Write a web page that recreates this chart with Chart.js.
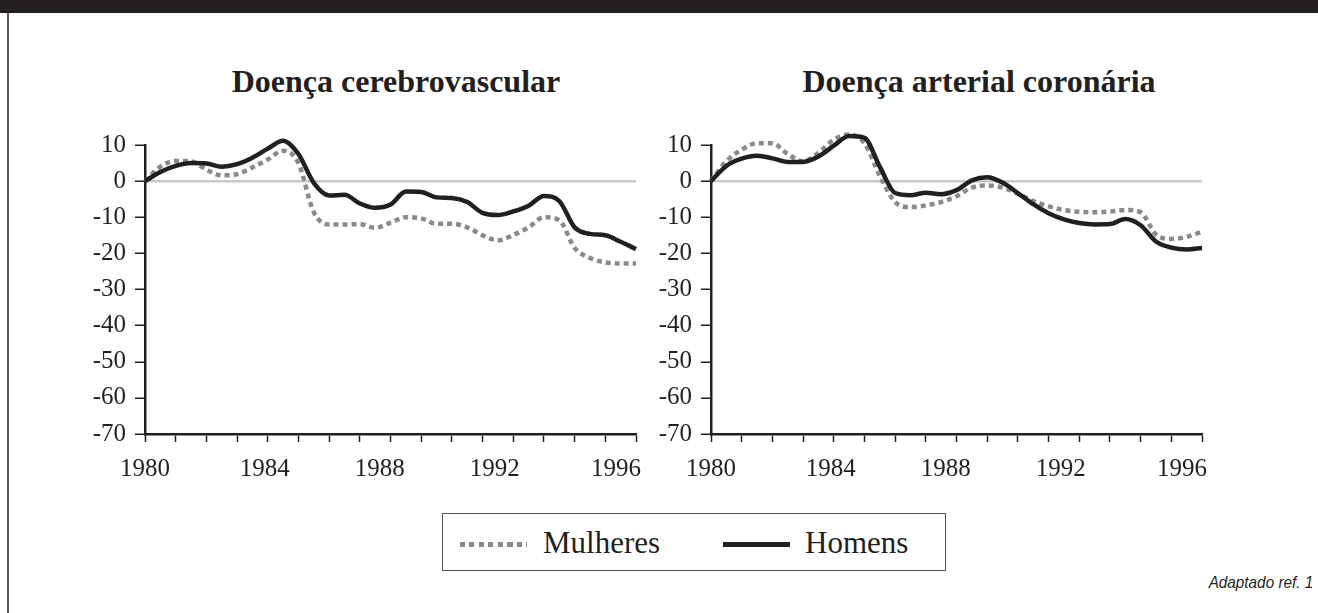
<!DOCTYPE html>
<html lang="pt">
<head>
    <meta charset="UTF-8">
    <title>Doença cerebrovascular e arterial coronária</title>
    <style>
        body {
            margin: 0;
            width: 1318px;
            height: 613px;
            background: #ffffff;
            position: relative;
            overflow: hidden;
            font-family: 'Liberation Serif', 'Times New Roman', serif;
            color: #231f20;
        }

        .topbar {
            position: absolute;
            left: 0; top: 0;
            width: 1318px; height: 13px;
            background: #231f20;
        }

        .leftline {
            position: absolute;
            left: 7px; top: 13px;
            width: 2px; height: 600px;
            background: #5a5a5a;
        }

        .titulo {
            position: absolute;
            top: 63px;
            width: 500px;
            text-align: center;
            font-weight: bold;
            font-size: 32px;
        }

        .grafico {
            position: absolute;
            top: 120px;
        }

        .legenda {
            position: absolute;
            left: 442px; top: 513px;
            width: 502px; height: 56px;
            border: 1.5px solid #555;
            font-size: 31px;
        }

        .legenda .item {
            position: absolute;
            top: 11px;
            line-height: 36px;
        }

        .amostra {
            position: absolute;
            top: 542px;
            height: 5px;
            width: 67px;
        }

        .pontilhado {
            background: repeating-linear-gradient(to right, #8a8a8a 0 5px, transparent 5px 9.5px);
        }

        .continuo {
            background: #231f20;
        }

        .fonte {
            position: absolute;
            right: 5px; top: 573px;
            font-family: 'Liberation Sans Narrow', 'Liberation Sans', Arial, sans-serif;
            font-style: italic;
            font-size: 17px;
            color: #231f20;
            transform: scaleX(0.9);
            transform-origin: right center;
        }
    </style>
    <script src="https://cdn.jsdelivr.net/npm/chart.js"></script>
</head>

<body>
    <div class="topbar"></div>
    <div class="leftline"></div>

    <div class="titulo" style="left: 146px;">Doença cerebrovascular</div>
    <div class="titulo" style="left: 729px;">Doença arterial coronária</div>

    <canvas id="graficoCerebro" class="grafico" width="600" height="370" style="left: 60px;"></canvas>
    <canvas id="graficoCoronaria" class="grafico" width="600" height="370" style="left: 626px;"></canvas>

    <div class="legenda">
        <div class="item" style="left: 100px;">Mulheres</div>
        <div class="item" style="left: 362px;">Homens</div>
    </div>
    <div class="amostra pontilhado" style="left: 460px;"></div>
    <div class="amostra continuo" style="left: 723px;"></div>

    <div class="fonte">Adaptado ref. 1</div>

    <script>
        // anos (meio em meio ano)
        const anos = [1980, 1980.5, 1981, 1981.5, 1982, 1982.5, 1983, 1983.5, 1984, 1984.5,
            1985, 1985.5, 1986, 1986.5, 1987, 1987.5, 1988, 1988.5, 1989, 1989.5,
            1990, 1990.5, 1991, 1991.5, 1992, 1992.5, 1993, 1993.5, 1994, 1994.5,
            1995, 1995.5, 1996];

        // Doença cerebrovascular (% variação)
        const cerebroMulheres = [0, 4, 5.6, 5.5, 3.2, 1.6, 1.9, 3.8, 6, 8.4,
            5, -8.6, -12, -12, -11.9, -12.9, -11.5, -10, -10.3, -11.8,
            -11.8, -12.8, -15, -16.4, -14.9, -12.8, -10, -10.8, -18.5, -21.3,
            -22.5, -22.8, -22.8];
        const cerebroHomens = [0, 2.5, 4.2, 5, 4.9, 4, 4.7, 6.5, 9, 11.2,
            7.5, -0.5, -4, -3.8, -6.2, -7.4, -6.5, -2.9, -3, -4.5,
            -4.7, -5.8, -8.8, -9.4, -8.4, -6.8, -4.1, -5.5, -12.8, -14.6,
            -15, -16.8, -18.8];

        // Doença arterial coronária (% variação)
        const coronariaMulheres = [0, 5.5, 8.7, 10.5, 10.5, 7.5, 5.5, 7.8, 11.5, 12.9,
            10.5, 1.5, -5.8, -7.2, -6.7, -5.8, -4.2, -1.8, -1.2, -1.8,
            -3.5, -5.5, -7, -8, -8.5, -8.6, -8.4, -8, -8.6, -14.8,
            -16, -15.4, -14];
        const coronariaHomens = [0, 4.2, 6.2, 7, 6.3, 5.3, 5.3, 6.8, 9.8, 12.5,
            12, 4, -3.3, -3.9, -3.2, -3.6, -2.5, 0.2, 1.1, -0.4,
            -3.3, -6.4, -8.9, -10.6, -11.6, -12, -11.9, -10.5, -12.2, -16.7,
            -18.4, -18.9, -18.5];

        // marcas anuais no eixo x e rótulos (no original os rótulos ficam um pouco
        // deslocados em relação às marcas)
        const anosMarcas = [1980, 1981, 1982, 1983, 1984, 1985, 1986, 1987, 1988,
            1989, 1990, 1991, 1992, 1993, 1994, 1995, 1996];
        const rotulosAnos = ['1980', '1984', '1988', '1992', '1996'];
        const posicaoRotulos = [1980, 1983.9, 1987.65, 1991.4, 1995.35];

        const pontos = (valores) => anos.map((ano, i) => ({ x: ano, y: valores[i] }));
        const fonteSerif = "'Liberation Serif', 'Times New Roman', serif";

        function criarGrafico(id, mulheres, homens) {
            return new Chart(document.getElementById(id).getContext('2d'), {
                type: 'line',
                data: {
                    datasets: [{
                        label: 'Homens',
                        data: pontos(homens),
                        borderColor: '#231f20',
                        borderWidth: 4.5,
                        pointRadius: 0,
                        cubicInterpolationMode: 'monotone',
                        clip: false
                    }, {
                        label: 'Mulheres',
                        data: pontos(mulheres),
                        borderColor: '#8a8a8a',
                        borderWidth: 4.5,
                        borderDash: [5, 4],
                        borderCapStyle: 'butt',
                        pointRadius: 0,
                        cubicInterpolationMode: 'monotone',
                        clip: false
                    }]
                },
                options: {
                    responsive: false,
                    animation: false,
                    layout: { padding: { top: 25, right: 24, left: 0, bottom: 0 } },
                    plugins: {
                        legend: { display: false },
                        tooltip: { enabled: false }
                    },
                    scales: {
                        x: {
                            type: 'linear',
                            min: 1980,
                            max: 1996,
                            afterFit: (scale) => { scale.height = 56; },
                            afterBuildTicks: (scale) => {
                                const valores = [...new Set([...anosMarcas, ...posicaoRotulos])].sort((a, b) => a - b);
                                scale.ticks = valores.map(v => ({ value: v }));
                            },
                            border: { display: true, color: '#231f20', width: 2.5 },
                            grid: {
                                drawOnChartArea: false,
                                tickLength: 8,
                                tickColor: (ctx) => ctx.tick && anosMarcas.includes(ctx.tick.value) ? '#231f20' : 'rgba(0,0,0,0)',
                                tickWidth: 1.5
                            },
                            ticks: {
                                autoSkip: false,
                                maxRotation: 0,
                                padding: 12,
                                color: '#231f20',
                                font: { family: fonteSerif, size: 25 },
                                callback: (v) => {
                                    const i = posicaoRotulos.indexOf(v);
                                    return i >= 0 ? rotulosAnos[i] : '';
                                }
                            }
                        },
                        y: {
                            min: -70,
                            max: 10,
                            afterFit: (scale) => { scale.width = 85; },
                            border: { display: true, color: '#231f20', width: 2.5 },
                            grid: {
                                color: (ctx) => ctx.tick && ctx.tick.value === 0 ? '#c8c8c8' : 'rgba(0,0,0,0)',
                                lineWidth: 2.5,
                                tickLength: 10,
                                tickColor: '#231f20',
                                tickWidth: 1.5
                            },
                            ticks: {
                                stepSize: 10,
                                autoSkip: false,
                                padding: 9,
                                color: '#231f20',
                                font: { family: fonteSerif, size: 25 }
                            }
                        }
                    }
                }
            });
        }

        const graficoCerebro = criarGrafico('graficoCerebro', cerebroMulheres, cerebroHomens);
        const graficoCoronaria = criarGrafico('graficoCoronaria', coronariaMulheres, coronariaHomens);
    </script>
</body>

</html>
